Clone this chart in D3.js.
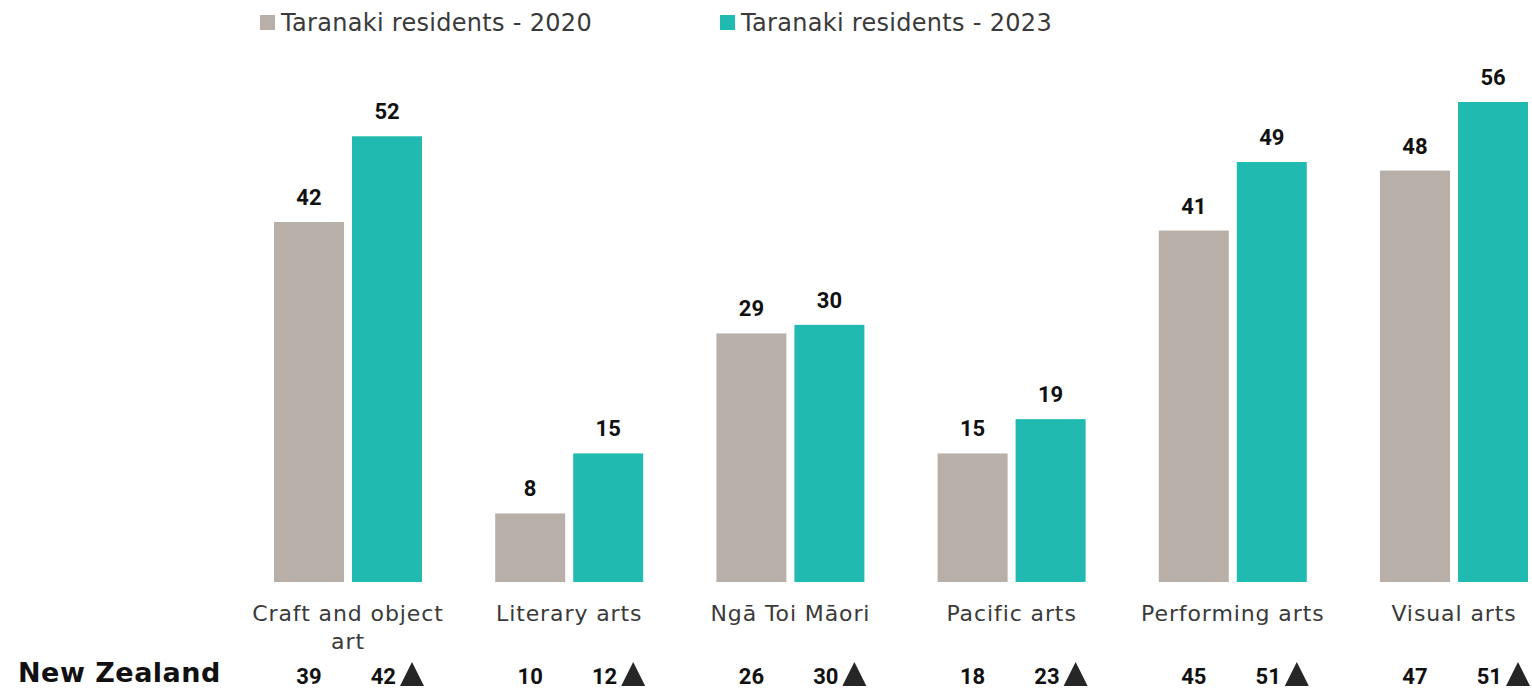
<!DOCTYPE html>
<html>
<head>
<meta charset="utf-8">
<script src="https://cdn.jsdelivr.net/npm/d3@7"></script>
<style>
  body { margin: 0; background: #fff; }
  svg { display: block; }
  .cat { font-family: "DejaVu Sans", sans-serif; font-size: 22px; letter-spacing: 0.9px; fill: #3a3a3a; }
  .val { font-family: Roboto, sans-serif; font-weight: bold; font-size: 22px; fill: #111; }
  .leg { font-family: "DejaVu Sans", sans-serif; font-size: 24px; letter-spacing: 0.3px; fill: #3a3a3a; }
</style>
</head>
<body>
<svg></svg>
<script>
const categories = ['Craft and object art', 'Literary arts', 'Ngā Toi Māori', 'Pacific arts', 'Performing arts', 'Visual arts'];
const seriesNames = ['Taranaki residents - 2020', 'Taranaki residents - 2023'];
const values2020 = [42, 8, 29, 15, 41, 48];
const values2023 = [52, 15, 30, 19, 49, 56];
const nz2020 = [39, 10, 26, 18, 45, 47];
const nz2023 = [42, 12, 30, 23, 51, 51];
const nzUp = [true, true, true, true, true, true];
const colors = ['#b8afa9', '#20bab0'];

const width = 1532, height = 689;
const svg = d3.select('svg').attr('width', width).attr('height', height);

const x0 = d3.scaleBand()
    .domain(categories)
    .range([237.4, 1564.6]);
const groupW = 148;
const x1 = d3.scaleBand()
    .domain([0, 1])
    .range([0, groupW])
    .paddingInner(0.1026);
const y = d3.scaleLinear()
    .domain([0, 56])
    .range([582, 102]);

function groupX(c) {
  return x0(c) + (x0.bandwidth() - groupW) / 2;
}

const rows = categories.map(function(c, i) {
  return {cat: c, vals: [values2020[i], values2023[i]], nz: [nz2020[i], nz2023[i]], up: nzUp[i]};
});

const g = svg.selectAll('.grp')
    .data(rows)
    .enter().append('g')
    .attr('class', 'grp')
    .attr('transform', function(d) {
      return 'translate(' + groupX(d.cat) + ',0)';
    });

g.selectAll('rect')
    .data(function(d) {
      return d.vals.map(function(v, k) {
        return {k: k, v: v};
      });
    })
    .enter().append('rect')
    .attr('x', function(d) {
      return x1(d.k);
    })
    .attr('y', function(d) {
      return y(d.v);
    })
    .attr('width', x1.bandwidth())
    .attr('height', function(d) {
      return y(0) - y(d.v);
    })
    .attr('fill', function(d) {
      return colors[d.k];
    });

g.selectAll('.val')
    .data(function(d) {
      return d.vals.map(function(v, k) {
        return {k: k, v: v};
      });
    })
    .enter().append('text')
    .attr('class', 'val')
    .attr('text-anchor', 'middle')
    .attr('x', function(d) {
      return x1(d.k) + x1.bandwidth() / 2;
    })
    .attr('y', function(d) {
      return y(d.v) - 17;
    })
    .text(function(d) {
      return d.v;
    });

// category labels, wrap long ones
g.each(function(d) {
  const t = d3.select(this).append('text')
      .attr('class', 'cat')
      .attr('text-anchor', 'middle')
      .attr('x', groupW / 2)
      .attr('y', 621);
  const lines = d.cat === 'Craft and object art' ? ['Craft and object', 'art'] : [d.cat];
  lines.forEach(function(l, i) {
    t.append('tspan')
        .attr('x', groupW / 2)
        .attr('dy', i === 0 ? 0 : 28)
        .text(l);
  });
});

// New Zealand row
svg.append('text')
    .attr('x', 18)
    .attr('y', 682)
    .style('font-family', '"DejaVu Sans", sans-serif')
    .style('font-weight', 'bold')
    .style('font-size', '27px')
    .style('letter-spacing', '0.5px')
    .style('fill', '#111')
    .text('New Zealand');

g.append('text')
    .attr('class', 'val')
    .attr('text-anchor', 'middle')
    .attr('x', x1(0) + x1.bandwidth() / 2)
    .attr('y', 684)
    .text(function(d) {
      return d.nz[0];
    });

g.append('text')
    .attr('class', 'val')
    .attr('text-anchor', 'end')
    .attr('x', x1(1) + x1.bandwidth() / 2 + 9)
    .attr('y', 684)
    .text(function(d) {
      return d.nz[1];
    });

g.filter(function(d) {
  return d.up;
})
    .append('path')
    .attr('fill', '#262626')
    .attr('d', function() {
      const cx = x1(1) + x1.bandwidth() / 2 + 25;
      return 'M' + (cx - 12) + ',686L' + cx + ',662L' + (cx + 12) + ',686Z';
    });

// legend
const leg = svg.selectAll('.legitem')
    .data(seriesNames)
    .enter().append('g')
    .attr('class', 'legitem')
    .attr('transform', function(d, i) {
      return 'translate(' + [260, 720][i] + ',0)';
    });
leg.append('rect')
    .attr('x', 0)
    .attr('y', 15)
    .attr('width', 15)
    .attr('height', 15)
    .attr('fill', function(d, i) {
      return colors[i];
    });
leg.append('text')
    .attr('class', 'leg')
    .attr('x', 21)
    .attr('y', 31)
    .text(function(d) {
      return d;
    });
</script>
</body>
</html>
